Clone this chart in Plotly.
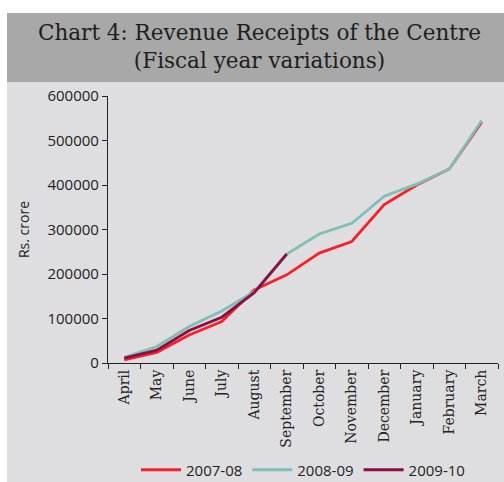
import plotly.graph_objects as go

# Monthly cumulative revenue receipts (Rs. crore)
months = ["April", "May", "June", "July", "August", "September",
          "October", "November", "December", "January", "February", "March"]
fy_2007_08 = [7000, 24000, 63000, 93000, 164000, 198000,
              247000, 273000, 356000, 400000, 436000, 541000]
fy_2008_09 = [13000, 37000, 82000, 117000, 160000, 245000,
              290000, 314000, 375000, 402000, 436000, 545000]
fy_2009_10 = [11000, 29000, 73000, 103000, 158000, 245000]
y_ticks = [0, 100000, 200000, 300000, 400000, 500000, 600000]

series = [
    ("2007-08", fy_2007_08, "#f5222b"),
    ("2008-09", fy_2008_09, "#7fc0b6"),
    ("2009-10", fy_2009_10, "#8a0f45"),
]

fig = go.Figure()
for name, vals, color in series:
    fig.add_trace(go.Scatter(
        x=months[:len(vals)], y=vals, name=name, mode="lines",
        line=dict(color=color, width=2.8),
    ))

# plot area spans pixels x 108..498, y 96..363
L, R, T, B = 108, 6, 96, 119
W, H = 504, 482
pw, ph = W - L - R, H - T - B

def px(x):
    return (x - L) / pw

def py(y):
    return (H - B - y) / ph

fig.update_layout(
    width=W, height=H,
    margin=dict(l=L, r=R, t=T, b=B, autoexpand=False),
    paper_bgcolor="white",
    plot_bgcolor="#dedde0",
    showlegend=True,
    legend=dict(
        orientation="h", x=0.5, xanchor="center", y=py(470), yanchor="middle",
        font=dict(family="Open Sans", size=15, color="#222"),
        bgcolor="rgba(0,0,0,0)", itemwidth=40, tracegroupgap=0,
    ),
    shapes=[
        dict(type="rect", xref="paper", yref="paper",
             x0=px(7), x1=px(504), y0=py(482), y1=py(82),
             fillcolor="#dedde0", line=dict(width=0), layer="below"),
        dict(type="rect", xref="paper", yref="paper",
             x0=px(7), x1=px(504), y0=py(82), y1=py(13),
             fillcolor="#a8a8a8", line=dict(width=0), layer="below"),
    ],
    annotations=[
        dict(text="Chart 4: Revenue Receipts of the Centre<br>(Fiscal year variations)",
             xref="paper", yref="paper", x=px(259), y=py(46),
             xanchor="center", yanchor="middle", showarrow=False,
             font=dict(family="DejaVu Serif", size=21.5, color="#1e1e1e")),
    ],
)

fig.update_xaxes(
    type="category", range=[-0.5, 11.5], automargin=False,
    showline=True, linecolor="#222", linewidth=1.2,
    ticks="outside", tickson="boundaries", ticklen=5, tickcolor="#222",
    tickangle=-90, showgrid=False,
    tickfont=dict(family="DejaVu Serif", size=14, color="#222"),
)
fig.update_yaxes(
    range=[0, 600000], tickvals=y_ticks, ticktext=[str(v) for v in y_ticks],
    automargin=False,
    showline=True, linecolor="#222", linewidth=1.2,
    ticks="outside", ticklen=5, tickcolor="#222", showgrid=False, zeroline=False,
    tickfont=dict(family="Open Sans", size=15, color="#222"),
    title=dict(text="Rs. crore", standoff=14,
               font=dict(family="Open Sans", size=14, color="#222")),
)

fig.write_html("out.html")
